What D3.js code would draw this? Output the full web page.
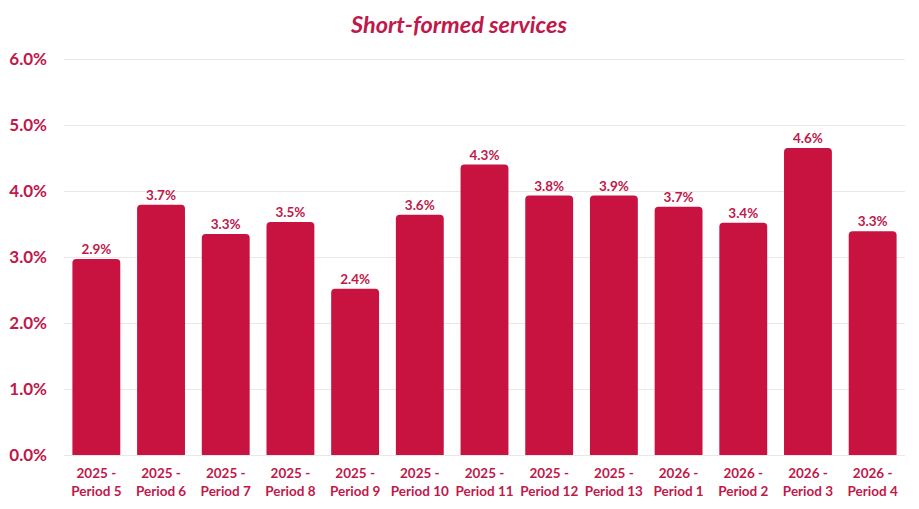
<!DOCTYPE html>
<html>
<head>
<meta charset="utf-8">
<script src="https://d3js.org/d3.v7.min.js"></script>
<style>
  body { margin: 0; background: #fff; }
  svg { display: block; }
</style>
</head>
<body>
<div id="chart"></div>
<script>
// data
var years   = ["2025", "2025", "2025", "2025", "2025", "2025", "2025", "2025", "2025", "2026", "2026", "2026", "2026"];
var periods = ["Period 5", "Period 6", "Period 7", "Period 8", "Period 9", "Period 10", "Period 11", "Period 12", "Period 13", "Period 1", "Period 2", "Period 3", "Period 4"];
var values  = [2.97, 3.79, 3.35, 3.53, 2.52, 3.64, 4.40, 3.93, 3.93, 3.76, 3.52, 4.65, 3.39]; // bar heights (%)
var labels  = ["2.9%", "3.7%", "3.3%", "3.5%", "2.4%", "3.6%", "4.3%", "3.8%", "3.9%", "3.7%", "3.4%", "4.6%", "3.3%"];
var yTicks  = [0, 1, 2, 3, 4, 5, 6];

var W = 919, H = 509;
var barColor = "#c8123f", textColor = "#c0184a";
var font = "Lato, 'Open Sans', sans-serif";

var svg = d3.select("#chart").append("svg")
    .attr("width", W).attr("height", H);

var cats = periods.map(function(p, i){ return years[i] + "|" + p; });

var x = d3.scaleBand()
    .domain(cats)
    .range([64, 905])
    .paddingInner(0.26)
    .paddingOuter(0.13);

var y = d3.scaleLinear()
    .domain([0, 6])
    .range([455, 59]);

// gridlines
svg.append("g")
   .selectAll("line")
   .data(yTicks)
   .enter().append("line")
   .attr("x1", 64).attr("x2", 905)
   .attr("y1", function(d){ return y(d) + 0.5; })
   .attr("y2", function(d){ return y(d) + 0.5; })
   .attr("stroke", "#ece6e9")
   .attr("stroke-width", 1);

// y axis labels
var yAxis = svg.append("g")
   .attr("transform", "translate(47,0)")
   .call(d3.axisLeft(y).tickValues(yTicks).tickSize(0).tickPadding(0)
        .tickFormat(function(d){ return d.toFixed(1) + "%"; }));
yAxis.select(".domain").remove();
yAxis.selectAll("text")
   .attr("fill", textColor)
   .attr("font-family", font)
   .attr("font-weight", "bold")
   .attr("font-size", "17px");

// bars with rounded tops
var r = 4;
function barPath(d, i){
  var x0 = x(cats[i]), w = x.bandwidth(), top = y(d), bot = y(0);
  return "M" + x0 + "," + bot +
         "V" + (top + r) +
         "Q" + x0 + "," + top + " " + (x0 + r) + "," + top +
         "H" + (x0 + w - r) +
         "Q" + (x0 + w) + "," + top + " " + (x0 + w) + "," + (top + r) +
         "V" + bot + "Z";
}

svg.append("g")
   .selectAll("path")
   .data(values)
   .enter().append("path")
   .attr("d", barPath)
   .attr("fill", barColor);

// value labels
svg.append("g")
   .selectAll("text")
   .data(values)
   .enter().append("text")
   .attr("x", function(d, i){ return x(cats[i]) + x.bandwidth() / 2; })
   .attr("y", function(d){ return y(d) - 5; })
   .attr("text-anchor", "middle")
   .attr("fill", textColor)
   .attr("font-family", font)
   .attr("font-weight", "bold")
   .attr("font-size", "13.5px")
   .text(function(d, i){ return labels[i]; });

// x axis labels (two lines)
var xAxis = svg.append("g")
   .attr("transform", "translate(0,455)")
   .call(d3.axisBottom(x).tickSize(0).tickFormat(""));
xAxis.select(".domain").remove();
xAxis.selectAll(".tick text").remove();
xAxis.selectAll(".tick").each(function(d){
  var parts = d.split("|");
  var t = d3.select(this).append("text")
     .attr("text-anchor", "middle")
     .attr("fill", textColor)
     .attr("font-family", font)
     .attr("font-weight", "bold")
     .attr("font-size", "13.5px");
  t.append("tspan").attr("x", 0).attr("y", 23).text(parts[0] + " -");
  t.append("tspan").attr("x", 0).attr("y", 41).text(parts[1]);
});

// title
svg.append("text")
   .attr("x", 459)
   .attr("y", 33)
   .attr("text-anchor", "middle")
   .attr("fill", textColor)
   .attr("font-family", font)
   .attr("font-weight", "bold")
   .attr("font-style", "italic")
   .attr("font-size", "23.5px")
   .text("Short-formed services");
</script>
</body>
</html>
